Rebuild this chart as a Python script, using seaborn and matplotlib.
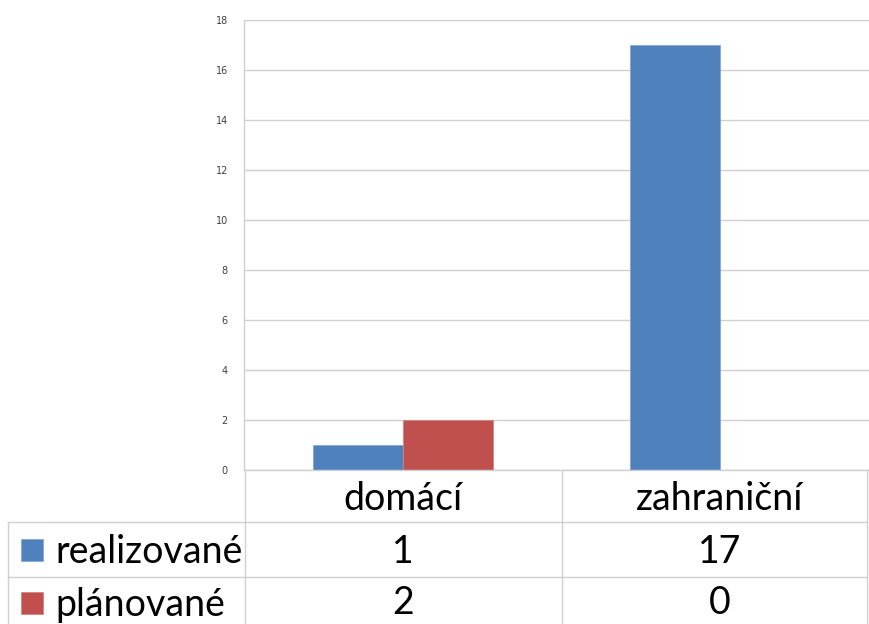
import matplotlib
matplotlib.use("Agg")
import matplotlib.pyplot as plt
import matplotlib.transforms as mtransforms
from matplotlib.lines import Line2D
from matplotlib.patches import Rectangle
import pandas as pd
import seaborn as sns

# data
categories = ["domácí", "zahraniční"]
series = ["realizované", "plánované"]
realizovane = [1, 17]
planovane = [2, 0]
colors = ["#4F81BD", "#C0504D"]
yticks = [0, 2, 4, 6, 8, 10, 12, 14, 16, 18]

df = pd.DataFrame({
    "kategorie": categories * 2,
    "typ": [series[0]] * 2 + [series[1]] * 2,
    "pocet": realizovane + planovane,
})

W, H = 870, 624
GRID = "#d0d0d0"
TABLE_FONT = ["Lato", "DejaVu Sans"]


def fx(x):
    return x / W


def fy(y):
    return 1 - y / H


sns.set_theme(style="white")
plt.rcParams["font.family"] = TABLE_FONT

fig = plt.figure(figsize=(W / 100, H / 100), dpi=100)
# plot area runs a little past the right edge, like the cropped original
ax = fig.add_axes([fx(244.5), fy(470), 634 / W, 450 / H])

sns.barplot(
    data=df, x="kategorie", y="pocet", hue="typ", hue_order=series,
    palette=colors, width=0.57, ax=ax, legend=False,
    linewidth=0.6, saturation=1,
)
for patch, col in zip(ax.patches, [colors[0]] * 2 + [colors[1]] * 2):
    patch.set_edgecolor(sns.light_palette(col, 4)[2])

ax.set_xlim(-0.5, 1.5)
ax.set_ylim(0, 18)
ax.set_yticks(yticks)
ax.set_yticklabels([str(t) for t in yticks], fontsize=7, color="#404040",
                   family=["DejaVu Sans"])
ax.tick_params(axis="y", length=0, pad=12)
ax.set_xticks([])
ax.set_xlabel("")
ax.set_ylabel("")
ax.yaxis.grid(True, color=GRID, linewidth=1)
ax.set_axisbelow(True)
for side in ["top", "right"]:
    ax.spines[side].set_visible(False)
ax.spines["left"].set_color(GRID)
ax.spines["bottom"].set_color(GRID)
ax.spines["left"].set_linewidth(1)
ax.spines["bottom"].set_linewidth(1)

# data table under the axis
tr = mtransforms.blended_transform_factory(ax.transData, ax.transAxes)
ax_h = 450


def ay(ypix):
    return -(ypix - 470) / ax_h


for i, cat in enumerate(categories):
    ax.text(i, ay(499), cat, transform=tr, ha="center", va="center",
            fontsize=27, color="black", clip_on=False)
    ax.text(i, ay(552), str(realizovane[i]), transform=tr, ha="center",
            va="center", fontsize=27, color="black", clip_on=False)
    ax.text(i, ay(603), str(planovane[i]), transform=tr, ha="center",
            va="center", fontsize=27, color="black", clip_on=False)

rows_y = [550, 603]
for name, col, yc in zip(series, colors, rows_y):
    fig.patches.append(Rectangle((fx(21), fy(yc + 11)), 22 / W, 22 / H,
                                 transform=fig.transFigure, facecolor=col,
                                 edgecolor=sns.light_palette(col, 4)[2],
                                 linewidth=0.6))
    fig.text(fx(55), fy(yc + 2), name, ha="left", va="center", fontsize=27,
             color="black")

lines = [
    ((8, 867), (522, 522)),
    ((8, 867), (577, 577)),
    ((8, 8), (522, 624)),
    ((245, 245), (470, 624)),
    ((562, 562), (470, 624)),
    ((867, 867), (470, 624)),
]
for xs, ys in lines:
    fig.add_artist(Line2D([fx(x) for x in xs], [fy(y) for y in ys],
                          transform=fig.transFigure, color=GRID, linewidth=1))

fig.savefig("out.png", dpi=100)
